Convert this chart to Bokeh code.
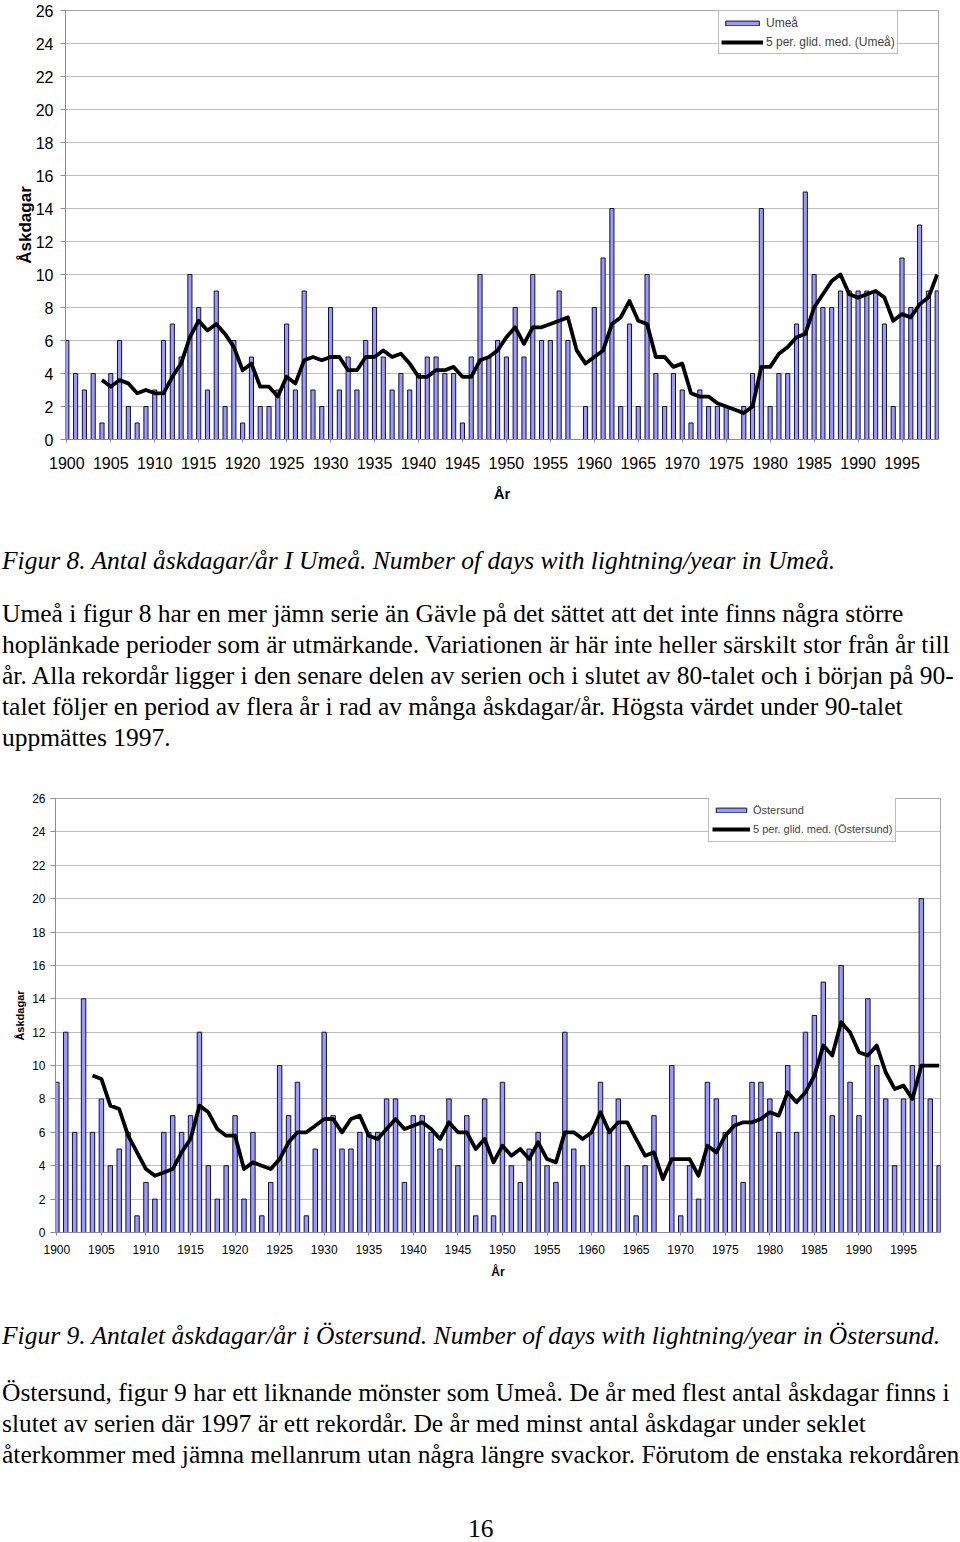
from bokeh.plotting import figure
from bokeh.models import Range1d, FixedTicker, Legend, LegendItem, Div, ColumnDataSource
from bokeh.embed import file_html
from bokeh.resources import INLINE

# ---------------- data ----------------
years = list(range(1900, 2000))
ma_years = years[4:]
tick_years = [1900, 1905, 1910, 1915, 1920, 1925, 1930, 1935, 1940, 1945,
              1950, 1955, 1960, 1965, 1970, 1975, 1980, 1985, 1990, 1995]
y_ticks = [0, 2, 4, 6, 8, 10, 12, 14, 16, 18, 20, 22, 24, 26]

umea = [6, 4, 3, 4, 1, 4, 6, 2, 1, 2,
        3, 6, 7, 5, 10, 8, 3, 9, 2, 6,
        1, 5, 2, 2, 3, 7, 3, 9, 3, 2,
        8, 3, 5, 3, 6, 8, 5, 3, 4, 3,
        4, 5, 5, 4, 4, 1, 5, 10, 5, 6,
        5, 8, 5, 10, 6, 6, 9, 6, 0, 2,
        8, 11, 14, 2, 7, 2, 10, 4, 2, 4,
        3, 1, 3, 2, 2, 2, 0, 2, 4, 14,
        2, 4, 4, 7, 15, 10, 8, 8, 9, 9,
        9, 9, 9, 7, 2, 11, 8, 13, 9, 9]

# 5-period moving average (Umeå), 1904-1999
umea_ma = [3.6, 3.2, 3.6, 3.4, 2.8, 3.0,
           2.8, 2.8, 3.8, 4.6, 6.2, 7.2, 6.6, 7.0, 6.4, 5.6,
           4.2, 4.6, 3.2, 3.2, 2.6, 3.8, 3.4, 4.8, 5.0, 4.8,
           5.0, 5.0, 4.2, 4.2, 5.0, 5.0, 5.4, 5.0, 5.2, 4.6,
           3.8, 3.8, 4.2, 4.2, 4.4, 3.8, 3.8, 4.8, 5.0, 5.4,
           6.2, 6.8, 5.8, 6.8, 6.8, 7.0, 7.2, 7.4, 5.4, 4.6,
           5.0, 5.4, 7.0, 7.4, 8.4, 7.2, 7.0, 5.0, 5.0, 4.4,
           4.6, 2.8, 2.6, 2.6, 2.2, 2.0, 1.8, 1.6, 2.0, 4.4,
           4.4, 5.2, 5.6, 6.2, 6.4, 8.0, 8.8, 9.6, 10.0, 8.8,
           8.6, 8.8, 9.0, 8.6, 7.2, 7.6, 7.4, 8.2, 8.6, 10.0]

ostersund = [9, 12, 6, 14, 6, 8, 4, 5, 6, 1,
             3, 2, 6, 7, 6, 7, 12, 4, 2, 4,
             7, 2, 6, 1, 3, 10, 7, 9, 1, 5,
             12, 7, 5, 5, 6, 6, 6, 8, 8, 3,
             7, 7, 6, 5, 8, 4, 7, 1, 8, 1,
             9, 4, 3, 5, 6, 4, 3, 12, 5, 4,
             6, 9, 6, 8, 4, 1, 4, 7, 0, 10,
             1, 4, 2, 9, 8, 6, 7, 3, 9, 9,
             8, 6, 10, 6, 12, 13, 15, 7, 16, 9,
             7, 14, 10, 8, 4, 8, 10, 20, 8, 4]

# 5-period moving average (Östersund), 1904-1999
ostersund_ma = [9.4, 9.2, 7.6, 7.4, 5.8, 4.8,
                3.8, 3.4, 3.6, 3.8, 4.8, 5.6, 7.6, 7.2, 6.2, 5.8,
                5.8, 3.8, 4.2, 4.0, 3.8, 4.4, 5.4, 6.0, 6.0, 6.4,
                6.8, 6.8, 6.0, 6.8, 7.0, 5.8, 5.6, 6.2, 6.8, 6.2,
                6.4, 6.6, 6.2, 5.6, 6.6, 6.0, 6.0, 5.0, 5.6, 4.2,
                5.2, 4.6, 5.0, 4.4, 5.4, 4.4, 4.2, 6.0, 6.0, 5.6,
                6.0, 7.2, 6.0, 6.6, 6.6, 5.6, 4.6, 4.8, 3.2, 4.4,
                4.4, 4.4, 3.4, 5.2, 4.8, 5.8, 6.4, 6.6, 6.6, 6.8,
                7.2, 7.0, 8.4, 7.8, 8.4, 9.4, 11.2, 10.6, 12.6, 12.0,
                10.8, 10.6, 11.2, 9.6, 8.6, 8.8, 8.0, 10.0, 10.0, 10.0]

BAR_FILL = "#9999ff"
BAR_LINE = "#10103a"
FONT = "Liberation Sans"
W = 960


def make_chart(name, vals, ma, height, b_left, b_right, b_top, b_bottom,
               tick_font, ylab_font, xlab_font, tick_standoff, xlab_standoff,
               ylab_standoff, bar_w, leg_font, leg_glyph_w, leg_pad, leg_row,
               leg_x, leg_y_from_top):
    p = figure(width=W, height=height, output_backend="svg", toolbar_location=None,
               x_range=Range1d(1899.85, 1999.15), y_range=Range1d(0, 26),
               min_border_left=b_left, min_border_right=b_right,
               min_border_top=b_top, min_border_bottom=b_bottom)
    p.background_fill_color = "white"
    p.border_fill_color = "white"
    p.outline_line_color = "#a8a8a8"
    p.outline_line_width = 1

    src = ColumnDataSource(dict(year=years, val=vals))
    src_ma = ColumnDataSource(dict(year=ma_years, ma=ma))
    bars = p.vbar(x="year", top="val", width=bar_w, source=src,
                  fill_color=BAR_FILL, line_color=BAR_LINE, line_width=1)
    line = p.line(x="year", y="ma", source=src_ma, line_color="black",
                  line_width=3.8, line_join="round")

    p.xgrid.visible = False
    p.ygrid.grid_line_color = "#bdbdbd"
    p.ygrid.grid_line_width = 1

    p.xaxis.ticker = FixedTicker(ticks=tick_years)
    p.yaxis.ticker = FixedTicker(ticks=y_ticks)
    for ax in (p.xaxis[0], p.yaxis[0]):
        ax.axis_line_color = "#8c8c8c"
        ax.major_tick_line_color = "#8c8c8c"
        ax.minor_tick_line_color = None
        ax.major_tick_in = 0
        ax.major_label_text_font = FONT
        ax.major_label_text_font_size = tick_font
        ax.major_label_text_color = "black"
        ax.axis_label_text_font = FONT
        ax.axis_label_text_font_style = "bold"
        ax.axis_label_text_color = "black"
    p.xaxis.major_tick_out = 3
    p.yaxis.major_tick_out = 5
    p.xaxis.major_label_standoff = tick_standoff[0]
    p.yaxis.major_label_standoff = tick_standoff[1]
    p.xaxis.axis_label = "År"
    p.yaxis.axis_label = "Åskdagar"
    p.xaxis.axis_label_text_font_size = xlab_font
    p.yaxis.axis_label_text_font_size = ylab_font
    p.xaxis.axis_label_standoff = xlab_standoff
    p.yaxis.axis_label_standoff = ylab_standoff

    frame_h = height - b_top - b_bottom
    leg_h = 2 * leg_pad + 2 * leg_row
    legend = Legend(items=[LegendItem(label=name, renderers=[bars]),
                           LegendItem(label="5 per. glid. med. (%s)" % name, renderers=[line])],
                    location=(leg_x, frame_h - leg_y_from_top - leg_h),
                    orientation="vertical", margin=0, padding=leg_pad, spacing=0,
                    glyph_width=leg_glyph_w, glyph_height=6, label_height=leg_row,
                    label_standoff=3,
                    label_text_font=FONT, label_text_font_size=leg_font,
                    border_line_color="#7a7a7a", border_line_width=1,
                    background_fill_color="white", background_fill_alpha=1.0)
    p.add_layout(legend)
    return p


# Umeå chart: frame x 65..938, y 10..439
p1 = make_chart("Umeå", umea, umea_ma, height=505, b_left=65, b_right=22, b_top=10, b_bottom=66,
                tick_font="16px", ylab_font="17px", xlab_font="15px",
                tick_standoff=(14, 7), xlab_standoff=13, ylab_standoff=-2, bar_w=0.47,
                leg_font="12px", leg_glyph_w=42, leg_pad=2, leg_row=19,
                leg_x=653, leg_y_from_top=2)

# Östersund chart: frame x 55..940, y 798..1232 (figure starts at 785)
p2 = make_chart("Östersund", ostersund, ostersund_ma, height=497, b_left=55, b_right=20, b_top=13, b_bottom=50,
                tick_font="12px", ylab_font="11px", xlab_font="12px",
                tick_standoff=(9, 5), xlab_standoff=8, ylab_standoff=3, bar_w=0.5,
                leg_font="11px", leg_glyph_w=38, leg_pad=3, leg_row=19,
                leg_x=653, leg_y_from_top=0)

TXT = "position:absolute;left:2px;font-family:'Liberation Serif','Times New Roman',serif;" \
      "font-size:25.5px;line-height:31px;color:#000;white-space:nowrap;"

caption1 = "Figur 8. Antal åskdagar/år I Umeå. Number of days with lightning/year in Umeå."
para1 = ["Umeå i figur 8 har en mer jämn serie än Gävle på det sättet att det inte finns några större",
         "hoplänkade perioder som är utmärkande. Variationen är här inte heller särskilt stor från år till",
         "år. Alla rekordår ligger i den senare delen av serien och i slutet av 80-talet och i början på 90-",
         "talet följer en period av flera år i rad av många åskdagar/år. Högsta värdet under 90-talet",
         "uppmättes 1997."]
caption2 = "Figur 9. Antalet åskdagar/år i Östersund. Number of days with lightning/year in Östersund."
para2 = ["Östersund, figur 9 har ett liknande mönster som Umeå. De år med flest antal åskdagar finns i",
         "slutet av serien där 1997 är ett rekordår. De år med minst antal åskdagar under seklet",
         "återkommer med jämna mellanrum utan några längre svackor. Förutom de enstaka rekordåren"]

H1, H2 = 280, 260
html1 = ('<div style="position:relative;width:%dpx;height:%dpx;">'
         '<div style="%stop:39.5px;font-style:italic;">%s</div>'
         '<div style="%stop:92.5px;">%s</div></div>') % (W, H1, TXT, caption1, TXT, "<br>".join(para1))
html2 = ('<div style="position:relative;width:%dpx;height:%dpx;">'
         '<div style="%stop:37.5px;font-style:italic;">%s</div>'
         '<div style="%stop:94.5px;">%s</div>'
         '<div style="%stop:231px;left:468px;">16</div></div>') % (
    W, H2, TXT, caption2, TXT, "<br>".join(para2), TXT)

d1 = Div(text=html1, width=W, height=H1, margin=0, styles={"overflow": "visible"})
d2 = Div(text=html2, width=W, height=H2, margin=0, styles={"overflow": "visible"})

open("out.html", "w").write(file_html([p1, d1, p2, d2], INLINE))
